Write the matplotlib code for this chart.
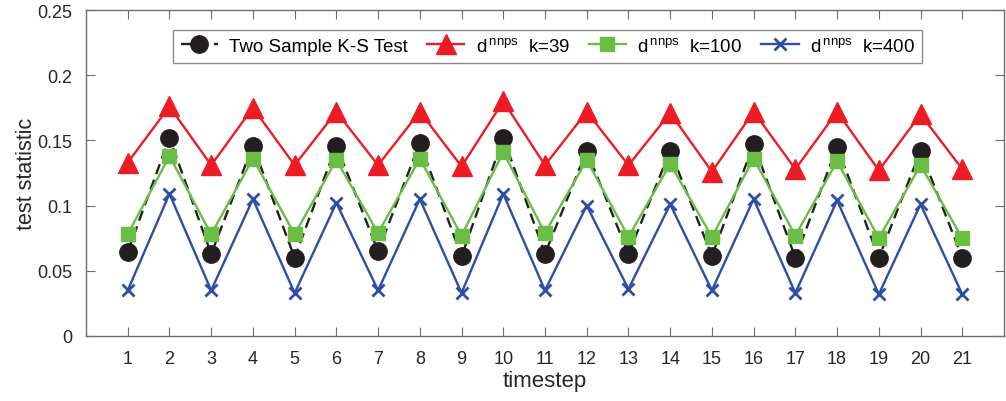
import matplotlib
matplotlib.use("Agg")
import matplotlib.pyplot as plt
import numpy as np

plt.rcParams['font.family'] = ['Liberation Sans', 'DejaVu Sans']
plt.rcParams['mathtext.default'] = 'regular'

timesteps = list(range(1, 22))
ks_test = [0.0646, 0.152, 0.063, 0.146, 0.060, 0.146, 0.065, 0.148, 0.061, 0.152, 0.063,
           0.142, 0.063, 0.142, 0.0615, 0.147, 0.060, 0.145, 0.060, 0.142, 0.060]
k39 = [0.133, 0.176, 0.131, 0.175, 0.131, 0.172, 0.131, 0.172, 0.130, 0.180, 0.131,
       0.172, 0.131, 0.171, 0.126, 0.172, 0.128, 0.172, 0.127, 0.170, 0.128]
k100 = [0.078, 0.138, 0.078, 0.136, 0.078, 0.135, 0.079, 0.136, 0.077, 0.141, 0.079,
        0.135, 0.076, 0.132, 0.076, 0.136, 0.077, 0.134, 0.075, 0.131, 0.075]
k400 = [0.035, 0.109, 0.035, 0.105, 0.033, 0.102, 0.035, 0.105, 0.033, 0.109, 0.035,
        0.100, 0.036, 0.101, 0.035, 0.105, 0.033, 0.104, 0.032, 0.101, 0.032]
labels = ['Two Sample K-S Test', 'd$^{\\,nnps}$  k=39', 'd$^{\\,nnps}$  k=100',
          'd$^{\\,nnps}$  k=400']

fig = plt.figure(figsize=(10.06, 4.02), dpi=100)
ax = fig.add_axes([86/1006, 65/402, 918/1006, 326/402])

lw = 1.7
ax.plot(timesteps, ks_test, color='#231F20', ls=(0, (4.5, 2.5)), lw=lw, marker='o', ms=12.5,
        label=labels[0])
ax.plot(timesteps, k39, color='#ED1C24', lw=lw, marker='^', ms=15, label=labels[1])
ax.plot(timesteps, k100, color='#6ABD45', lw=lw, marker='s', ms=9.5, label=labels[2])
ax.plot(timesteps, k400, color='#2E4DA7', lw=lw, marker='x', ms=8.5, mew=2, label=labels[3])

ax.set_xlim(0, 22)
ax.set_ylim(0, 0.25)
ax.set_xticks(timesteps)
ax.set_yticks([0, 0.05, 0.1, 0.15, 0.2, 0.25])
ax.set_yticklabels(['0', '0.05', '0.1', '0.15', '0.2', '0.25'])
ax.tick_params(direction='in', length=6.5, color='#6d6d6d', labelcolor='#262626',
               labelsize=13, right=True, top=True, pad=10)
for s in ax.spines.values():
    s.set_color('#6d6d6d')
    s.set_linewidth(1)
ax.set_xlabel('timestep', fontsize=16, color='#262626', labelpad=2)
ax.set_ylabel('test statistic', fontsize=15.5, color='#262626', labelpad=0)

leg = ax.legend(loc='upper center', bbox_to_anchor=(0.503, 0.94), ncol=4, fontsize=13.5,
                frameon=True, fancybox=False, edgecolor='#6d6d6d', handlelength=2.0,
                columnspacing=1.0, handletextpad=0.6, borderpad=0.4, borderaxespad=0)
leg.get_frame().set_linewidth(1)

fig.savefig('out.png', dpi=100)
